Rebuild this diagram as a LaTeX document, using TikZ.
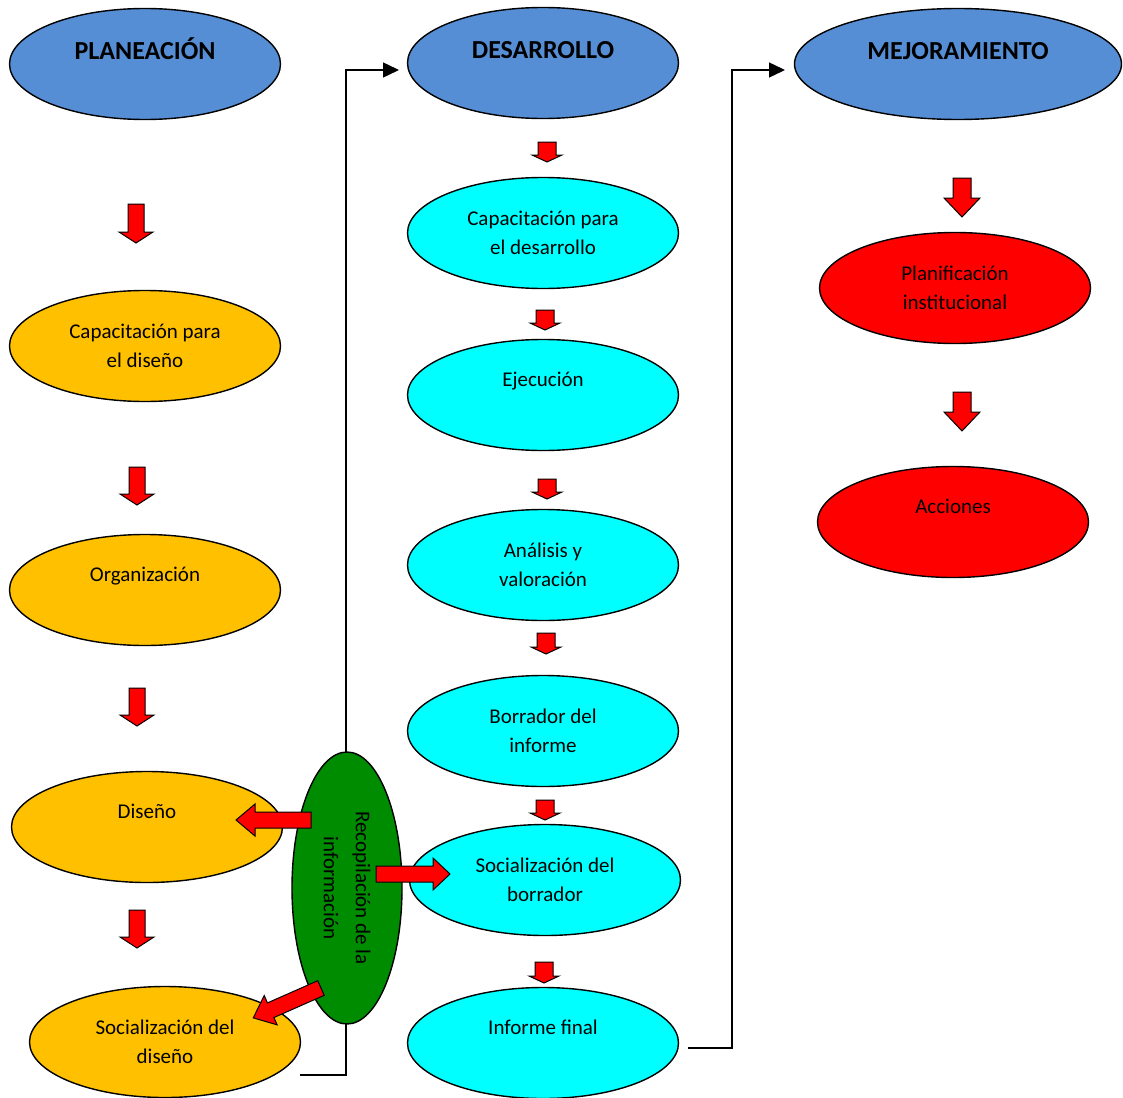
\documentclass[tikz,border=0pt]{standalone}
\usepackage{fontspec}
\setmainfont{Carlito}
\usetikzlibrary{arrows.meta, shapes.geometric}

\definecolor{azulcab}{HTML}{558ED5}
\definecolor{naranja}{HTML}{FFC000}
\definecolor{cian}{HTML}{00FFFF}
\definecolor{verde}{HTML}{008C00}

\begin{document}
\begin{tikzpicture}[x=1pt, y=-1pt,
		elipse/.style={ellipse, draw=black, line width=1.4pt, inner sep=2pt,
			minimum width=271pt, minimum height=111pt, align=center,
			font=\fontsize{21}{29}\selectfont},
		unalinea/.style={text height=16pt, text depth=34pt},
		cabecera/.style={elipse, fill=azulcab,
			font=\fontsize{26}{30}\selectfont\bfseries, text height=18pt, text depth=26pt},
		conector/.style={line width=1.4pt, -{Triangle[length=16pt, width=15pt]}},
		bloque/.style={fill=red, draw=black, line width=1pt, line join=miter}]
		
		\useasboundingbox (0,0) rectangle (1123,1097);
		
		% conectores (detras de las elipses)
		\coordinate (sdc) at (300,1075);
		\coordinate (infc) at (688,1048);
		\draw[conector] (sdc) -- ++(46,0) |- ([shift={(-6pt,-7pt)}]405,63);
		\draw[conector] (infc) -- ++(44,0) |- ([shift={(-10pt,-6pt)}]795,64);
		
		% cabeceras
		\node[cabecera] (pla) at (145,64) {PLANEACIÓN};
		\node[cabecera] (des) at (543,63) {DESARROLLO};
		\node[cabecera, minimum width=327pt] (mej) at (958,64) {MEJORAMIENTO};
		
		% planeacion
		\node[elipse, fill=naranja] (cdi) at (145,346) {Capacitación para\\el diseño};
		\node[elipse, unalinea, fill=naranja] (org) at (145,590) {Organización};
		\node[elipse, unalinea, fill=naranja] (dis) at (147,827) {Diseño};
		\node[elipse, fill=naranja] (sdi) at (165,1042) {Socialización del\\diseño};
		
		% desarrollo
		\node[elipse, fill=cian] (cde) at (543,233) {Capacitación para\\el desarrollo};
		\node[elipse, unalinea, fill=cian] (eje) at (543,395) {Ejecución};
		\node[elipse, fill=cian] (ana) at (543,565) {Análisis y\\valoración};
		\node[elipse, fill=cian] (bor) at (543,731) {Borrador del\\informe};
		\node[elipse, fill=cian] (sbo) at (545,880) {Socialización del\\borrador};
		\node[elipse, unalinea, fill=cian] (inf) at (543,1043) {Informe final};
		
		% mejoramiento
		\node[elipse, fill=red] (pin) at (955,288) {Planificación\\institucional};
		\node[elipse, unalinea, fill=red] (acc) at (953,522) {Acciones};
		
		% recopilacion
		\node[ellipse, draw=black, line width=1.4pt, fill=verde, rotate=-90,
			minimum width=272pt, minimum height=110pt, align=center,
			font=\fontsize{21}{32}\selectfont] (rec) at (347,888) {Recopilación de la\\información};
		
		% flechas de bloque: x/y de la cola, angulo, largo, medio cuerpo, media punta, largo punta
		\foreach \x/\y/\a/\l/\s/\w/\h in {
			136/204/-90/39/8/17/11, 137/467/-90/38/8/17/11, 137/688/-90/38/8/17/11, 137/910/-90/38/8/17/11,
			962/178/-90/39/9/18/19, 962/392/-90/39/9/18/19,
			547/142/-90/20/9/15/7, 545/310/-90/20/9/15/7, 547/479/-90/20/9/15/7,
			546/633/-90/21/9/15/7, 545/800/-90/20/9/15/7, 544/962/-90/21/9/15/7,
			311/820/180/75/8/16/19, 376/874/0/74/8/16/17, 321/988/203.8/74/8/16/19}{
			\filldraw[bloque, shift={(\x,\y)}, rotate=\a]
				(0,-\s) -- (\l-\h,-\s) -- (\l-\h,-\w) -- (\l,0) -- (\l-\h,\w) -- (\l-\h,\s) -- (0,\s) -- cycle;
		}
		
	\end{tikzpicture}
\end{document}
